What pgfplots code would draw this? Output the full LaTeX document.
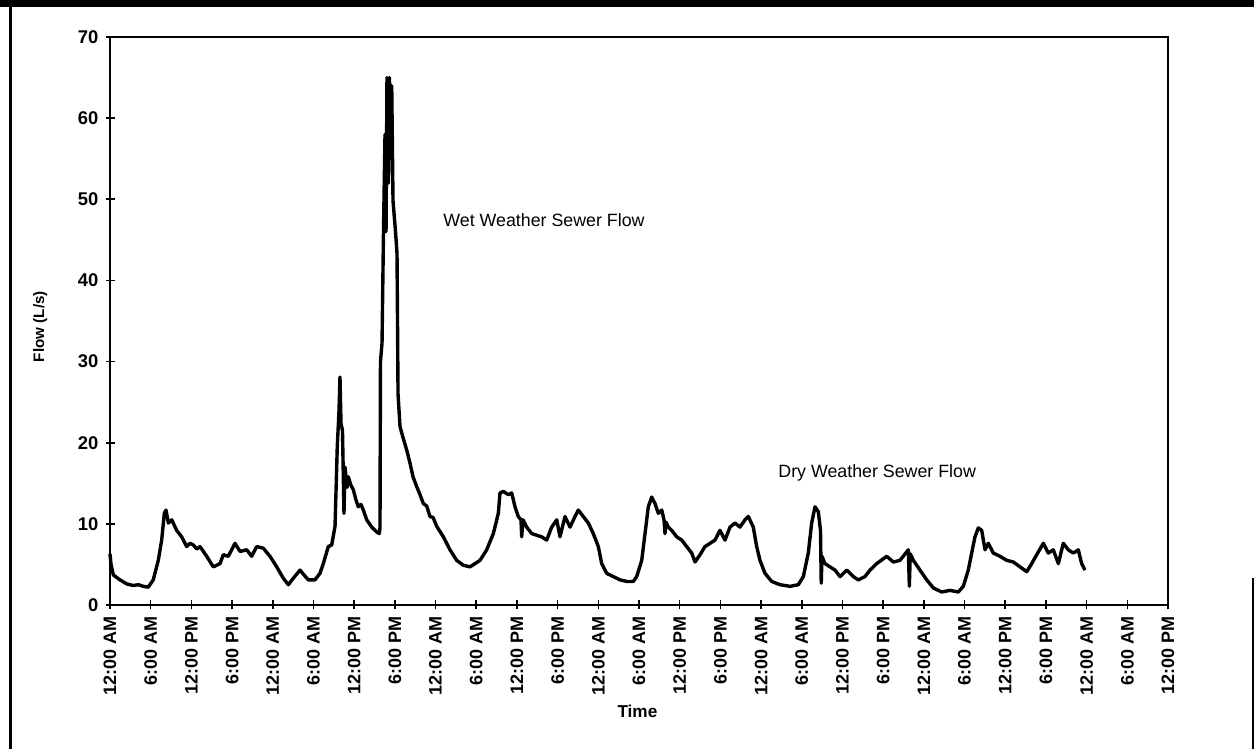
\documentclass[border=0pt]{standalone}
\usepackage{fontspec}
\setmainfont{Liberation Sans}
\usepackage{pgfplots}
\pgfplotsset{compat=1.18}
\begin{document}
\begin{tikzpicture}
\path[use as bounding box] (0pt,0pt) rectangle (627pt,374.5pt);
% page frame
\fill[black] (0pt,370.8pt) rectangle (627pt,374.5pt);
\draw[line width=1.5pt] (5pt,0pt) -- (5pt,371pt);
\draw[line width=1pt] (626.5pt,0pt) -- (626.5pt,85.5pt);
\begin{axis}[
  at={(55pt,72pt)}, anchor=south west,
  scale only axis, width=529pt, height=284pt,
  xmin=0, xmax=156, ymin=0, ymax=70,
  axis line style={line width=1pt},
  tick style={line width=0.8pt, black},
  tick align=center, major tick length=4.5pt,
  ytick={0,10,...,70}, ytick pos=left,
  xtick={0,6,...,156}, xtick pos=bottom,
  xticklabels={12:00 AM,6:00 AM,12:00 PM,6:00 PM,12:00 AM,6:00 AM,12:00 PM,6:00 PM,12:00 AM,6:00 AM,12:00 PM,6:00 PM,12:00 AM,6:00 AM,12:00 PM,6:00 PM,12:00 AM,6:00 AM,12:00 PM,6:00 PM,12:00 AM,6:00 AM,12:00 PM,6:00 PM,12:00 AM,6:00 AM,12:00 PM},
  xticklabel style={rotate=90, anchor=east, font=\bfseries\fontsize{9}{10}\selectfont},
  yticklabel style={font=\bfseries\fontsize{9.2}{10}\selectfont},
  /pgf/number format/assume math mode=true,
  ylabel={Flow (L/s)},
  ylabel style={at={(axis description cs:-0.066,0.49)}, anchor=center, font=\bfseries\fontsize{7.6}{9}\selectfont},
  xlabel={Time},
  xlabel style={at={(axis description cs:0.4985,-0.188)}, anchor=center, font=\bfseries\fontsize{8.6}{10}\selectfont},
  clip=false,
]
\addplot[black, line width=1.7pt, line join=round] table[x=h, y=v] {
h v
0.00 6.3
0.15 5.0
0.49 3.7
1.47 3.1
2.46 2.6
3.44 2.4
4.20 2.5
4.91 2.3
5.65 2.2
6.38 3.1
7.12 5.5
7.62 8.0
8.01 11.3
8.26 11.7
8.60 10.1
9.10 10.5
9.83 9.2
10.57 8.4
11.31 7.2
11.80 7.6
12.28 7.4
12.80 6.9
13.27 7.2
14.26 6.0
15.23 4.7
16.22 5.1
16.71 6.2
17.44 6.0
18.43 7.6
19.17 6.6
20.16 6.8
20.89 6.0
21.63 7.2
22.60 7.0
23.59 6.0
24.58 4.7
25.55 3.3
26.29 2.5
27.03 3.3
28.02 4.3
28.61 3.7
29.24 3.1
30.23 3.1
30.96 3.9
31.45 5.1
32.19 7.2
32.69 7.4
33.18 9.7
33.51 19.5
33.77 24.0
33.91 28.1
34.06 22.4
34.28 21.5
34.50 11.3
34.65 17.0
34.95 14.5
35.14 15.8
35.50 14.8
35.88 14.2
36.25 13.0
36.61 12.1
37.00 12.4
37.35 11.7
37.85 10.5
38.59 9.6
39.32 9.0
39.71 8.8
39.81 9.5
39.88 30.0
40.11 32.3
40.33 46.3
40.55 58.0
40.70 46.0
40.84 65.0
41.06 52.0
41.21 65.0
41.36 55.0
41.54 64.0
41.73 49.8
42.10 46.0
42.32 43.3
42.47 26.0
42.76 22.0
43.25 20.5
43.75 19.1
44.23 17.5
44.68 15.8
45.22 14.6
45.71 13.6
46.20 12.5
46.70 12.2
47.18 10.9
47.63 10.8
48.17 9.7
49.15 8.4
50.13 6.8
51.12 5.5
52.09 4.9
53.08 4.7
53.82 5.1
54.56 5.5
55.54 6.8
56.52 8.8
57.26 11.3
57.50 13.8
57.99 14.0
58.73 13.6
59.23 13.8
59.72 12.1
60.20 10.9
60.60 10.5
60.70 8.4
60.90 10.5
61.44 9.6
62.18 8.8
62.92 8.6
63.65 8.4
64.39 8.0
65.13 9.6
65.87 10.5
66.35 8.4
67.09 10.9
67.83 9.6
68.56 10.9
69.05 11.7
69.79 10.9
70.53 10.1
71.26 8.8
72.00 7.2
72.50 5.1
73.24 3.9
74.21 3.5
75.20 3.1
76.19 2.9
77.16 2.9
77.66 3.5
78.40 5.5
78.89 8.8
79.37 12.1
79.87 13.3
80.36 12.5
80.85 11.3
81.35 11.7
81.69 10.5
81.83 8.8
81.98 10.2
82.32 9.6
82.82 9.2
83.56 8.4
84.30 8.0
85.03 7.2
85.77 6.4
86.26 5.3
87.00 6.2
87.73 7.2
88.47 7.6
89.21 8.0
89.94 9.2
90.68 8.0
91.42 9.6
92.16 10.1
92.89 9.6
93.63 10.5
94.12 10.9
94.85 9.6
95.35 7.2
95.84 5.5
96.58 3.9
97.57 2.9
98.79 2.5
100.27 2.3
101.49 2.5
102.23 3.5
102.96 6.4
103.46 10.1
103.95 12.1
104.44 11.5
104.76 9.2
104.87 2.7
104.98 6.0
105.42 5.1
106.16 4.7
106.90 4.3
107.64 3.5
108.63 4.3
109.60 3.5
110.34 3.1
111.32 3.5
112.06 4.3
113.05 5.1
114.52 6.0
115.50 5.3
116.48 5.5
117.71 6.8
117.86 2.3
118.00 6.3
118.45 5.5
119.43 4.3
120.42 3.1
121.40 2.1
122.63 1.6
123.86 1.8
125.08 1.6
125.82 2.3
126.55 4.3
127.05 6.4
127.54 8.4
128.03 9.5
128.53 9.2
129.02 6.8
129.51 7.6
130.24 6.4
131.23 6.0
132.22 5.5
133.19 5.3
134.18 4.7
135.17 4.1
135.90 5.1
136.64 6.2
137.62 7.6
138.35 6.4
139.09 6.8
139.83 5.1
140.56 7.6
141.30 6.8
142.04 6.4
142.77 6.8
143.27 5.1
143.76 4.3
};
\node[anchor=west, font=\fontsize{8.9}{10}\selectfont, inner sep=0pt] at (axis cs:49.1,47.4) {Wet Weather Sewer Flow};
\node[anchor=west, font=\fontsize{8.9}{10}\selectfont, inner sep=0pt] at (axis cs:98.5,16.3) {Dry Weather Sewer Flow};
\end{axis}
\end{tikzpicture}
\end{document}
